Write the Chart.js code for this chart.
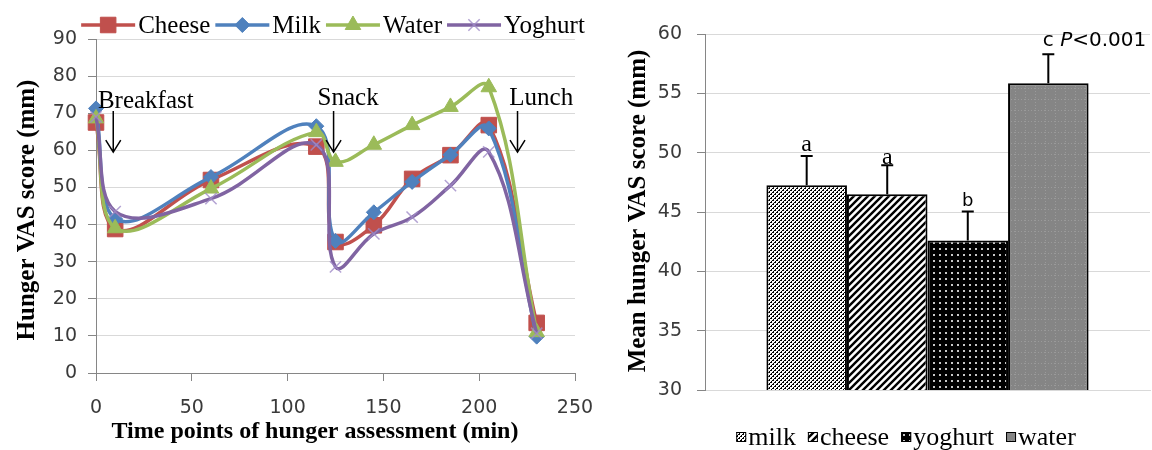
<!DOCTYPE html>
<html>
<head>
<meta charset="utf-8">
<script src="https://cdn.jsdelivr.net/npm/chart.js@4.4.1/dist/chart.umd.min.js"></script>
<style>
  body { margin: 0; background: #fff; width: 1152px; height: 450px; overflow: hidden; position: relative; }
  #wrapL { position: absolute; left: 0; top: 0; width: 595px; height: 450px; }
  #wrapR { position: absolute; left: 595px; top: 0; width: 557px; height: 450px; }
</style>
</head>
<body>
<div id="wrapL"><canvas id="lineChart"></canvas></div>
<div id="wrapR"><canvas id="barChart"></canvas></div>
<script>
// hunger VAS over time (min), one list per drink
const times   = [0, 10, 60, 115, 125, 145, 165, 185, 205, 230];
const cheese  = [67.5, 38.8, 52.0, 61.0, 35.3, 39.8, 52.3, 58.7, 66.8, 13.5];
const milk    = [71.3, 41.5, 52.8, 66.5, 35.6, 43.3, 51.5, 58.8, 65.9, 9.8];
const water   = [68.6, 39.0, 49.7, 64.9, 56.9, 61.5, 66.8, 71.7, 77.0, 11.0];
const yoghurt = [69.0, 43.5, 47.0, 61.5, 28.6, 37.5, 42.0, 50.5, 59.6, 10.7];

// meal markers on the time course
const meals      = ['Breakfast', 'Snack', 'Lunch'];
const mealTimes  = [9, 124, 220];

// mean hunger VAS score per drink (right panel)
const drinks   = ['milk', 'cheese', 'yoghurt', 'water'];
const means    = [47.26, 46.5, 42.6, 55.84];
const sems     = [2.45, 2.45, 2.45, 2.45];
const letters  = ['a', 'a', 'b', 'c'];

const SERIF = '"Liberation Serif", "Times New Roman", serif';
const SANS = '"DejaVu Sans", sans-serif';

Chart.defaults.font.family = SANS;
Chart.defaults.color = '#3a3a3a';

function pts(vals) {
  return times.map((t, i) => ({ x: t, y: vals[i] }));
}

function marker(ctx, ds, x, y) {
  ctx.fillStyle = ds.pointBackgroundColor;
  ctx.strokeStyle = ds.pointBorderColor;
  ctx.lineWidth = ds.pointBorderWidth;
  if (Chart.helpers && Chart.helpers.drawPoint) {
    Chart.helpers.drawPoint(ctx, { pointStyle: ds.pointStyle, radius: ds.pointRadius, rotation: 0, borderWidth: ds.pointBorderWidth }, x, y);
  } else {
    ctx.beginPath(); ctx.arc(x, y, ds.pointRadius * 0.7, 0, Math.PI * 2); ctx.fill();
  }
}

// left panel: annotations, legend, axis titles
const lineExtras = {
  id: 'lineExtras',
  afterDraw(chart) {
    const { ctx, scales: { x, y } } = chart;
    ctx.save();

    // meal arrows
    ctx.strokeStyle = '#000';
    ctx.lineWidth = 1.5;
    mealTimes.forEach((t) => {
      const ax = x.getPixelForValue(t);
      const top = y.getPixelForValue(70.6);
      const tip = y.getPixelForValue(59.5);
      ctx.beginPath();
      ctx.moveTo(ax, top); ctx.lineTo(ax, tip);
      ctx.moveTo(ax - 7.5, tip - 12); ctx.lineTo(ax, tip); ctx.lineTo(ax + 7.5, tip - 12);
      ctx.stroke();
    });
    ctx.fillStyle = '#000';
    ctx.font = '25px ' + SERIF;
    ctx.textBaseline = 'alphabetic';
    ctx.textAlign = 'left';
    ctx.fillText(meals[0], x.getPixelForValue(1), y.getPixelForValue(71.3));
    ctx.textAlign = 'center';
    ctx.fillText(meals[1], x.getPixelForValue(131.6), y.getPixelForValue(72.2));
    ctx.fillText(meals[2], x.getPixelForValue(232.4), y.getPixelForValue(72.2));

    // legend: line + marker + name
    ctx.font = '25px ' + SERIF;
    const segW = 54, gap = 5;
    const items = chart.data.datasets.map(ds => ({ ds, w: segW + 3 + ctx.measureText(ds.label).width }));
    const total = items.reduce((s, it) => s + it.w, 0) + gap * (items.length - 1);
    let cx = 333 - total / 2;
    const ly = 25;
    items.forEach(it => {
      ctx.strokeStyle = it.ds.borderColor;
      ctx.lineWidth = it.ds.borderWidth;
      ctx.beginPath(); ctx.moveTo(cx, ly); ctx.lineTo(cx + segW, ly); ctx.stroke();
      marker(ctx, it.ds, cx + segW / 2, ly);
      ctx.fillStyle = '#000';
      ctx.textAlign = 'left';
      ctx.textBaseline = 'alphabetic';
      ctx.fillText(it.ds.label, cx + segW + 3, 33);
      cx += it.w + gap;
    });

    // axis titles
    ctx.fillStyle = '#000';
    ctx.font = 'bold 24px ' + SERIF;
    ctx.textAlign = 'center';
    ctx.fillText('Time points of hunger assessment (min)', 315, 438);
    ctx.font = 'bold 25px ' + SERIF;
    ctx.translate(34, 210);
    ctx.rotate(-Math.PI / 2);
    ctx.fillText('Hunger VAS score (mm)', 0, 0);
    ctx.restore();
  }
};

new Chart(document.getElementById('lineChart'), {
  type: 'line',
  data: {
    datasets: [
      { label: 'Cheese', data: pts(cheese), borderColor: '#C0504D', borderWidth: 3.5, tension: 0.4,
        pointStyle: 'rect', pointRadius: 11, pointBackgroundColor: '#C0504D', pointBorderColor: '#C0504D', pointBorderWidth: 1, order: 4, clip: false },
      { label: 'Milk', data: pts(milk), borderColor: '#4F81BD', borderWidth: 3.5, tension: 0.4,
        pointStyle: 'rectRot', pointRadius: 7.5, pointBackgroundColor: '#4F81BD', pointBorderColor: '#4F81BD', pointBorderWidth: 1, order: 3, clip: false },
      { label: 'Water', data: pts(water), borderColor: '#9BBB59', borderWidth: 3.5, tension: 0.4,
        pointStyle: 'triangle', pointRadius: 9, pointBackgroundColor: '#9BBB59', pointBorderColor: '#9BBB59', pointBorderWidth: 1, order: 2, clip: false },
      { label: 'Yoghurt', data: pts(yoghurt), borderColor: '#8064A2', borderWidth: 3.5, tension: 0.4,
        pointStyle: 'crossRot', pointRadius: 8, pointBackgroundColor: 'rgba(160,140,200,0.8)', pointBorderColor: 'rgba(160,140,200,0.8)', pointBorderWidth: 1.5, order: 1, clip: false }
    ]
  },
  options: {
    responsive: true,
    maintainAspectRatio: false,
    animation: false,
    layout: { padding: { top: 39, right: 4, left: 0, bottom: 0 } },
    plugins: { legend: { display: false }, tooltip: { enabled: false } },
    scales: {
      x: {
        type: 'linear', min: 0, max: 250,
        ticks: { stepSize: 50, padding: 16, font: { size: 19 }, color: '#3a3a3a' },
        grid: { drawOnChartArea: false, tickLength: 8, color: '#868686' },
        border: { color: '#868686' },
        afterFit(scale) {
          scale.height = 77;
          scale.paddingLeft = 0;
          scale.paddingRight = 20;
        }
      },
      y: {
        min: 0, max: 90,
        ticks: { stepSize: 10, padding: 11, font: { size: 19 }, color: '#3a3a3a' },
        grid: { color: '#d9d9d9', tickColor: '#868686', tickLength: 8 },
        border: { color: '#868686' },
        afterFit(scale) { scale.width = 96; }
      }
    }
  },
  plugins: [lineExtras]
});

// fill patterns for the bars
function pattern(w, h, paint) {
  const c = document.createElement('canvas');
  c.width = w; c.height = h;
  const g = c.getContext('2d');
  paint(g, w, h);
  return g.createPattern(c, 'repeat');
}
const milkFill = pattern(4, 4, (g) => {
  g.fillStyle = '#fff'; g.fillRect(0, 0, 4, 4);
  g.fillStyle = '#000';
  [[1, 0], [2, 0], [0, 1], [0, 2], [3, 2], [2, 3]].forEach(p => g.fillRect(p[0], p[1], 1, 1));
});
const cheeseFill = pattern(7, 7, (g) => {
  g.fillStyle = '#fff'; g.fillRect(0, 0, 7, 7);
  g.strokeStyle = '#000'; g.lineWidth = 2.4;
  g.beginPath();
  g.moveTo(0, 7); g.lineTo(7, 0);
  g.moveTo(-1, 1); g.lineTo(1, -1);
  g.moveTo(6, 8); g.lineTo(8, 6);
  g.stroke();
});
const yoghurtFill = pattern(6, 6, (g) => {
  g.fillStyle = '#000'; g.fillRect(0, 0, 6, 6);
  g.fillStyle = '#c8c8c8'; g.fillRect(2, 2, 2, 2);
});
const waterFill = pattern(10, 11, (g) => {
  g.fillStyle = '#858585'; g.fillRect(0, 0, 10, 11);
  g.fillStyle = '#9a9a9a';
  for (let i = 0; i < 10; i += 3) g.fillRect(i, 0, 1, 1);
  for (let j = 0; j < 11; j += 3) g.fillRect(0, j, 1, 1);
});
const fills = [milkFill, cheeseFill, yoghurtFill, waterFill];

// right panel: error bars, letters, legend, title
const barExtras = {
  id: 'barExtras',
  afterDatasetsDraw(chart) {
    const { ctx, scales: { y } } = chart;
    ctx.save();
    const letterFonts = ['24px ' + SERIF, '24px ' + SERIF, '18px ' + SANS, '20px ' + SANS];
    const letterGap = [5, 1, 5, 8];
    chart.data.datasets.forEach((ds, i) => {
      const bar = chart.getDatasetMeta(i).data[0];
      const top = y.getPixelForValue(means[i] + sems[i]);
      ctx.strokeStyle = '#000';
      ctx.lineWidth = 2;
      ctx.beginPath();
      ctx.moveTo(bar.x, bar.y); ctx.lineTo(bar.x, top);
      ctx.moveTo(bar.x - 6, top); ctx.lineTo(bar.x + 6, top);
      ctx.stroke();

      ctx.fillStyle = '#000';
      ctx.font = letterFonts[i];
      ctx.textBaseline = 'alphabetic';
      ctx.textAlign = 'center';
      const by = top - letterGap[i];
      ctx.fillText(letters[i], bar.x, by);
      if (i === 3) {
        let px = bar.x + ctx.measureText(letters[i]).width / 2 + ctx.measureText(' ').width;
        ctx.textAlign = 'left';
        ctx.font = 'italic 20px ' + SANS;
        ctx.fillText('P', px, by);
        px += ctx.measureText('P').width;
        ctx.font = '20px ' + SANS;
        ctx.fillText('<0.001', px, by);
      }
    });
    ctx.restore();
  },
  afterDraw(chart) {
    const { ctx } = chart;
    ctx.save();
    // legend with pattern swatches
    ctx.font = '26px ' + SERIF;
    const box = 10, gap = 12;
    const items = chart.data.datasets.map((ds, i) => ({ ds, fill: fills[i], w: box + 2 + ctx.measureText(ds.label).width }));
    const total = items.reduce((s, it) => s + it.w, 0) + gap * (items.length - 1);
    let cx = 311 - total / 2;
    items.forEach(it => {
      ctx.fillStyle = it.fill;
      ctx.fillRect(cx, 432, box, box);
      ctx.strokeStyle = '#000';
      ctx.lineWidth = 1;
      ctx.strokeRect(cx + 0.5, 432.5, box - 1, box - 1);
      ctx.fillStyle = '#000';
      ctx.textAlign = 'left';
      ctx.textBaseline = 'alphabetic';
      ctx.fillText(it.ds.label, cx + box + 2, 445);
      cx += it.w + gap;
    });

    ctx.font = 'bold 25px ' + SERIF;
    ctx.textAlign = 'center';
    ctx.translate(50, 211);
    ctx.rotate(-Math.PI / 2);
    ctx.fillText('Mean hunger VAS score (mm)', 0, 0);
    ctx.restore();
  }
};

new Chart(document.getElementById('barChart'), {
  type: 'bar',
  data: {
    labels: [''],
    datasets: drinks.map((d, i) => ({
      label: d,
      data: [means[i]],
      backgroundColor: fills[i],
      borderColor: '#000',
      borderWidth: 2,
      borderSkipped: false
    }))
  },
  options: {
    responsive: true,
    maintainAspectRatio: false,
    animation: false,
    layout: { padding: { top: 34, right: 2, left: 0, bottom: 0 } },
    datasets: { bar: { categoryPercentage: 0.724, barPercentage: 1 } },
    plugins: { legend: { display: false }, tooltip: { enabled: false } },
    scales: {
      x: {
        ticks: { display: false },
        grid: { display: false },
        border: { display: true, color: '#d9d9d9' },
        afterFit(scale) { scale.height = 60; }
      },
      y: {
        min: 30, max: 60,
        ticks: { stepSize: 5, padding: 15, font: { size: 19 }, color: '#3a3a3a' },
        grid: { color: '#d9d9d9', tickColor: '#868686', tickLength: 8 },
        border: { color: '#868686' },
        afterFit(scale) { scale.width = 110; }
      }
    }
  },
  plugins: [barExtras]
});
</script>
</body>
</html>
